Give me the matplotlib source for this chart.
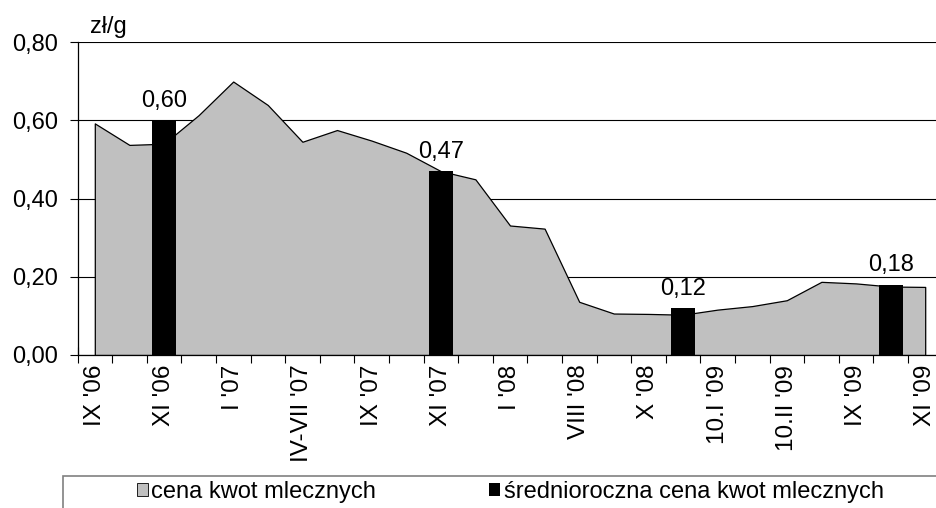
import matplotlib
matplotlib.use("Agg")
import matplotlib.pyplot as plt
from matplotlib.patches import Patch, Rectangle
import numpy as np

plt.rcParams['font.family'] = ['Liberation Sans', 'DejaVu Sans']

# categories (only every other one carries a label)
categories = ["IX '06", "", "XI '06", "", "I '07", "", "IV-VII '07", "", "IX '07", "",
              "XI '07", "", "I '08", "", "VIII '08", "", "X '08", "", "10.I '09", "",
              "10.II '09", "", "IX '09", "", "XI '09"]
# cena kwot mlecznych (zł/g)
price = [0.592, 0.537, 0.540, 0.613, 0.699, 0.639, 0.545, 0.575, 0.548, 0.517,
         0.470, 0.449, 0.331, 0.323, 0.136, 0.106, 0.105, 0.103, 0.116, 0.125,
         0.140, 0.187, 0.183, 0.175, 0.174]
# średnioroczna cena kwot mlecznych
avg_pos = [2, 10, 17, 23]
avg_vals = [0.60, 0.47, 0.12, 0.18]
avg_labels = ["0,60", "0,47", "0,12", "0,18"]
yticks = [0.0, 0.2, 0.4, 0.6, 0.8]

FS = 17
fig = plt.figure(figsize=(9.37, 5.08), dpi=100)
ax = fig.add_axes([77.5/937, 1-355/508, 25*34.6/937, (355-42)/508])

x = np.arange(len(price))
ax.fill_between(x, price, 0, facecolor='#c0c0c0', edgecolor='black', lw=0.9, zorder=2)
ax.bar(avg_pos, avg_vals, width=0.69, color='black', zorder=3)
for p, v, t in zip(avg_pos, avg_vals, avg_labels):
    ax.annotate(t, (p, v), xytext=(0, 6), textcoords='offset points',
                ha='center', va='bottom', fontsize=FS, zorder=4)

ax.set_xlim(-0.5, len(price) - 0.5)
ax.set_ylim(0, 0.8)
ax.set_yticks(yticks)
ax.set_yticklabels([f"{v:.2f}".replace('.', ',') for v in yticks], fontsize=FS)
ax.yaxis.grid(True, color='black', lw=0.8, zorder=0)
ax.set_axisbelow(True)

ax.set_xticks(x[::2])
ax.set_xticklabels(categories[::2], rotation=90, fontsize=17.5)
ax.set_xticks(np.arange(len(price) + 1) - 0.5, minor=True)
ax.tick_params(axis='x', which='major', length=0, pad=7)
ax.tick_params(axis='x', which='minor', direction='inout', length=12, width=0.8)
ax.tick_params(axis='y', direction='out', length=6, width=0.8, pad=8)

for s in ['top', 'right']:
    ax.spines[s].set_visible(False)
for s in ['left', 'bottom']:
    ax.spines[s].set_linewidth(0.9)

fig.text(90/937, 1-27/508, 'zł/g', fontsize=FS, va='center', ha='left')

handles = [Patch(facecolor='#c0c0c0', edgecolor='black', lw=0.6), Patch(facecolor='black')]
labels = ['cena kwot mlecznych', 'średnioroczna cena kwot mlecznych']
fig.legend(handles, labels, loc='center left', bbox_to_anchor=(137/937, 1-492/508),
           ncol=2, frameon=False, handlelength=0.45, handleheight=0.45,
           handletextpad=0.15, columnspacing=4.8, borderpad=0, borderaxespad=0,
           fontsize=FS)
fig.patches.append(Rectangle((63/937, -0.1), 1.0, 1-476/508+0.1, transform=fig.transFigure,
                             fill=False, edgecolor='#808080', lw=1.2))

fig.savefig('out.png', dpi=100)
